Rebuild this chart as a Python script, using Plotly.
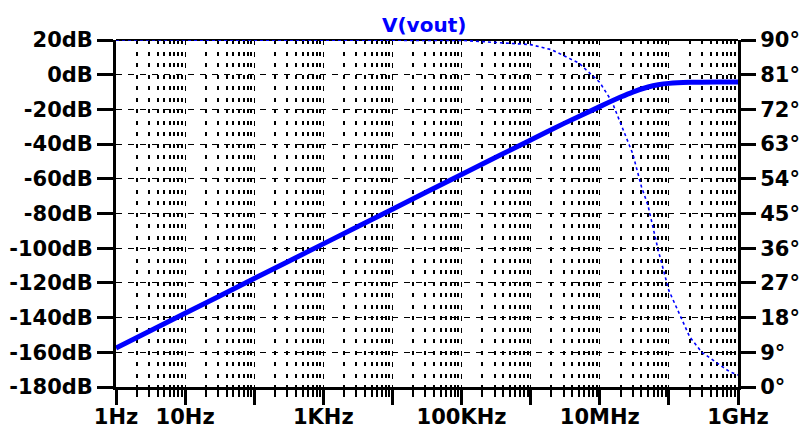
import plotly.graph_objects as go

# ---- data ----
mag_freq = [1, 10, 100, 1e3, 1e4, 1e5, 1e6, 3e6, 1e7, 2e7, 3e7, 5e7, 7e7, 1e8, 2e8, 5e8, 1e9]
mag_db = [-157.5, -137.5, -117.5, -97.5, -77.5, -57.5, -37.6, -28.2, -18.4, -12.9,
          -10.0, -7.1, -5.8, -5.0, -4.4, -4.2, -4.2]

phase_freq = [1, 1e5, 1e6, 2e6, 5e6, 1e7, 1.5e7, 2e7, 3e7, 4e7, 5e7, 7e7, 1e8,
              1.5e8, 2e8, 3e8, 5e8, 7.5e8, 1e9]
phase_deg = [90, 89.9, 88.8, 87.5, 84, 79, 74, 68.5, 60.5, 52, 47, 35.5, 25,
             18, 13, 9, 6.2, 4, 3.1]

x_tickvals = [1, 10, 100, 1e3, 1e4, 1e5, 1e6, 1e7, 1e8, 1e9]
x_ticktext = ["1Hz", "10Hz", "", "1KHz", "", "100KHz", "", "10MHz", "", "1GHz"]
x_minor = [k * 10 ** d for d in range(9) for k in range(2, 10)]

db_tickvals = [20, 0, -20, -40, -60, -80, -100, -120, -140, -160, -180]
db_ticktext = ["20dB", "0dB", "-20dB", "-40dB", "-60dB", "-80dB", "-100dB",
               "-120dB", "-140dB", "-160dB", "-180dB"]
deg_tickvals = [90, 81, 72, 63, 54, 45, 36, 27, 18, 9, 0]
deg_ticktext = ["90°", "81°", "72°", "63°", "54°", "45°", "36°", "27°", "18°", "9°", "0°"]

title_text = "V(vout)"

BLUE = "#0000ff"
FONT = dict(family="DejaVu Sans", size=21, color="black", weight="bold")

fig = go.Figure()
fig.add_trace(go.Scatter(x=phase_freq, y=phase_deg, yaxis="y2", mode="lines",
                         line=dict(color=BLUE, width=1.6, dash="3px,3px"),
                         showlegend=False, hoverinfo="skip"))
fig.add_trace(go.Scatter(x=mag_freq, y=mag_db, mode="lines",
                         line=dict(color=BLUE, width=5, shape="spline", smoothing=0.6),
                         showlegend=False, hoverinfo="skip"))

fig.update_layout(
    width=808, height=428,
    margin=dict(l=116, r=70, t=40, b=41, autoexpand=False),
    paper_bgcolor="white", plot_bgcolor="white",
    font=FONT,
    xaxis=dict(type="log", range=[0, 9], tickmode="array", automargin=False,
               tickvals=x_tickvals, ticktext=x_ticktext,
               ticks="outside", ticklen=15, tickwidth=3, tickcolor="black",
               showline=True, linewidth=3, linecolor="black",
               showgrid=True, gridcolor="black", gridwidth=1.2, griddash="5px,6.5px",
               zeroline=False, tickfont=FONT, ticklabelstandoff=-6,
               minor=dict(tickmode="array", tickvals=x_minor, ticks="outside",
                          ticklen=7, tickwidth=2, tickcolor="black",
                          showgrid=True, gridcolor="black", gridwidth=1.6,
                          griddash="4px,7.5px")),
    yaxis=dict(range=[-180, 20], tickmode="array", automargin=False,
               tickvals=db_tickvals, ticktext=db_ticktext,
               ticks="outside", ticklen=16, tickwidth=3, tickcolor="black",
               showline=True, linewidth=3, linecolor="black",
               showgrid=True, gridcolor="black", gridwidth=1.2, griddash="6px,6px",
               zeroline=False, tickfont=FONT, ticklabelstandoff=0),
    yaxis2=dict(range=[0, 90], overlaying="y", side="right", tickmode="array",
                automargin=False,
                tickvals=deg_tickvals, ticktext=deg_ticktext,
                ticks="outside", ticklen=15, tickwidth=3, tickcolor="black",
                showline=True, linewidth=3, linecolor="black",
                showgrid=False, zeroline=False, tickfont=FONT, ticklabelstandoff=0),
    shapes=[dict(type="line", xref="paper", yref="paper", x0=0, x1=1, y0=1, y1=1,
                 line=dict(color="black", width=2), layer="below")],
    annotations=[dict(text=title_text, xref="paper", yref="paper", x=0.495, y=1,
                      yshift=1, xanchor="center", yanchor="bottom", showarrow=False,
                      font=dict(family="DejaVu Sans", size=20, color=BLUE, weight="bold"))],
)

fig.write_html("out.html", config={"displayModeBar": False},
               post_script="document.body.style.margin='0';document.body.style.overflow='hidden';")
